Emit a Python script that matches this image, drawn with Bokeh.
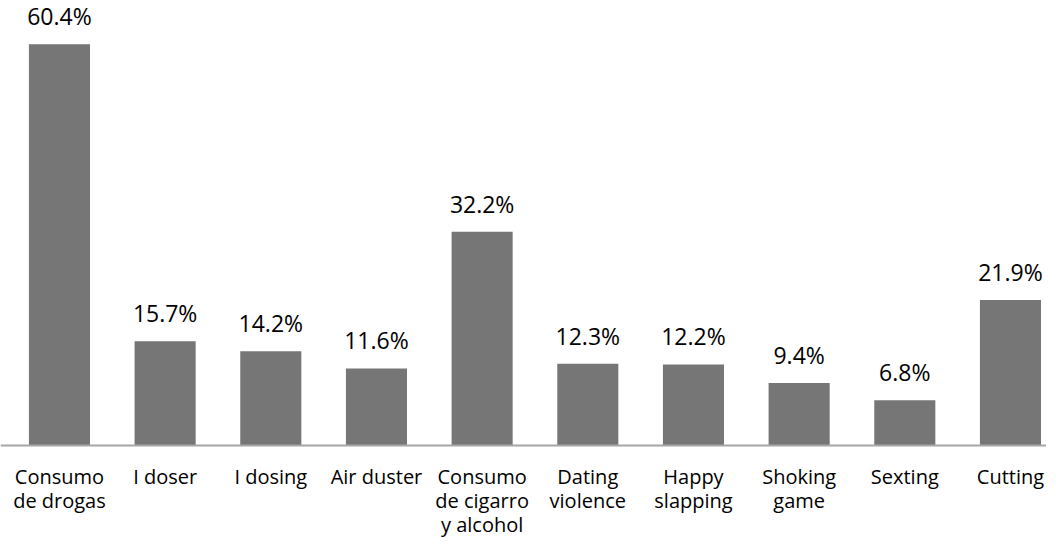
from bokeh.plotting import figure
from bokeh.models import Range1d, Span
from bokeh.core.properties import value
from bokeh.embed import file_html
from bokeh.resources import INLINE

categories = ["Consumo\nde drogas", "I doser", "I dosing", "Air duster",
              "Consumo\nde cigarro\ny alcohol", "Dating\nviolence", "Happy\nslapping",
              "Shoking\ngame", "Sexting", "Cutting"]
values = [60.4, 15.7, 14.2, 11.6, 32.2, 12.3, 12.2, 9.4, 6.8, 21.9]
labels = [f"{v:.1f}%" for v in values]

idx = list(range(len(categories)))
zeros = [0] * len(categories)
FONT = "Open Sans"

p = figure(width=1046, height=538, output_backend="svg", toolbar_location=None,
           x_range=Range1d(-0.558, 9.341), y_range=Range1d(-14.0, 67.0),
           min_border_left=0, min_border_right=0, min_border_top=0, min_border_bottom=0)
p.outline_line_color = None
p.xgrid.visible = False
p.ygrid.visible = False
p.xaxis.visible = False
p.yaxis.visible = False

p.vbar(x=idx, top=values, width=0.578, fill_color="#767676", line_color=None)
p.add_layout(Span(location=0, dimension="width", line_color="#a6a6a6", line_width=2))

# value labels
p.text(x=idx, y=values, text=labels, text_align="center", text_baseline="alphabetic",
       y_offset=-28, text_font=value(FONT), text_font_size="23px", text_color="#000000")

# category labels (below the baseline)
p.text(x=idx, y=zeros, text=categories, text_align="center", text_baseline="top",
       y_offset=17, text_font=value(FONT), text_font_size="20px", text_color="#000000",
       text_line_height=0.9)

open("out.html", "w").write(file_html(p, INLINE))
